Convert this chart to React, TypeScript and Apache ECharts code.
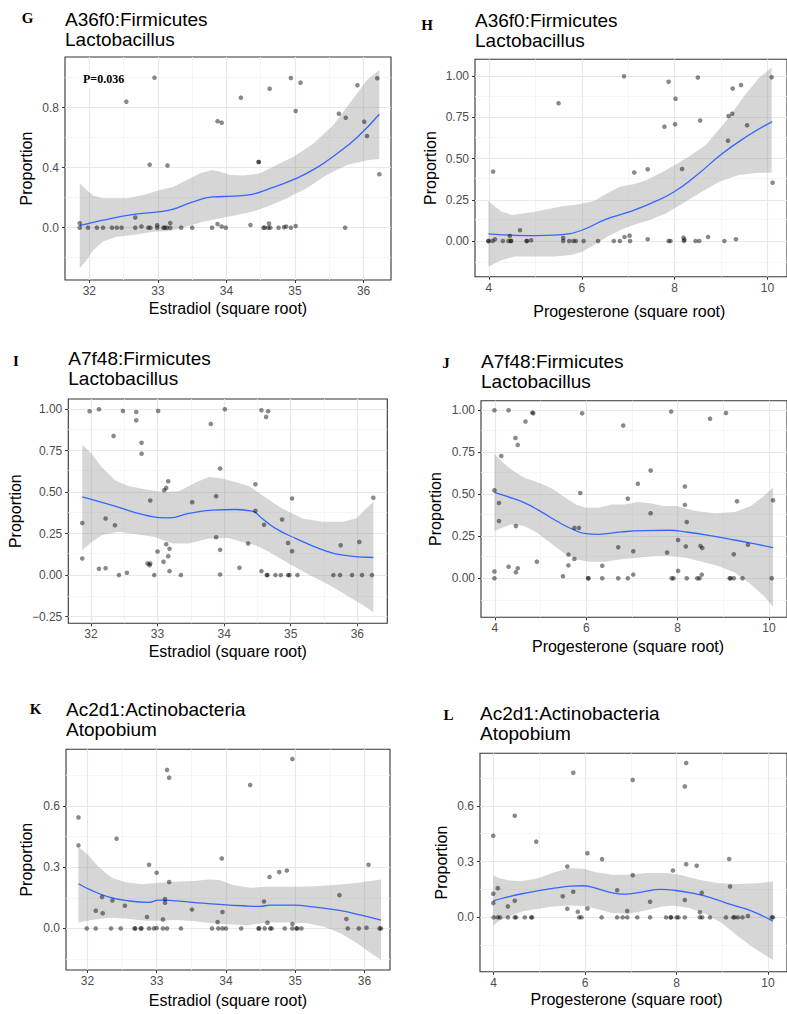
import { useEffect, useRef } from "react";
import * as echarts from "echarts";

type P = [number, number];

// ---------- tick labels ----------
const estradiolTicks = [32, 33, 34, 35, 36];
const progesteroneTicks = [4, 6, 8, 10];
const yTicksG = [0, 0.4, 0.8];
const yTicksHJ = [0, 0.25, 0.5, 0.75, 1];
const yTicksI = [-0.25, 0, 0.25, 0.5, 0.75, 1];
const yTicksKL = [0, 0.3, 0.6];

// ---------- Panel G: A36f0 vs Estradiol ----------
const gPoints: P[] = [
  [31.86, 0.03], [31.86, 0], [31.98, 0], [32.11, 0], [32.2, 0], [32.33, 0], [32.4, 0], [32.47, 0],
  [32.54, 0.84], [32.67, 0.067], [32.67, 0], [32.76, 0.007], [32.86, 0], [32.89, 0], [32.88, 0.42],
  [32.95, 1.0], [32.99, 0.016], [32.99, 0], [33.08, 0], [33.1, 0], [33.13, 0], [33.14, 0.415],
  [33.18, 0.031], [33.18, 0], [33.34, 0], [33.5, 0], [33.79, 0], [33.87, 0.71], [33.93, 0.7],
  [33.87, 0.024], [33.93, 0.007], [33.99, 0], [34.21, 0.867], [34.35, 0.018], [34.47, 0.438],
  [34.47, 0.438], [34.54, 0], [34.56, 0], [34.61, 0], [34.62, 0.027], [34.64, 0], [34.63, 0.927],
  [34.76, 0], [34.84, 0.002], [34.87, 0.007], [34.94, 0], [34.94, 0.998], [35.01, 0.778],
  [35.01, 0.011], [35.08, 0.967], [35.64, 0.76], [35.73, 0], [35.74, 0.733], [35.91, 0.949],
  [36.01, 0.707], [36.05, 0.611], [36.2, 0.996], [36.23, 0.356],
];
const gSmooth: P[] = [
  [31.86, 0.013], [32.2, 0.05], [32.6, 0.085], [33.0, 0.105], [33.2, 0.12], [33.5, 0.17],
  [33.8, 0.205], [34.1, 0.21], [34.35, 0.22], [34.6, 0.255], [35.0, 0.325], [35.3, 0.395],
  [35.6, 0.49], [35.9, 0.6], [36.23, 0.756],
];
const gUpper: P[] = [
  [31.86, 0.296], [31.96, 0.251], [32.06, 0.213], [32.2, 0.196], [32.55, 0.196], [32.79, 0.218],
  [33.03, 0.251], [33.23, 0.273], [33.42, 0.318], [33.62, 0.362], [33.79, 0.384], [33.91, 0.373],
  [34.05, 0.351], [34.25, 0.347], [34.49, 0.362], [34.73, 0.418], [34.98, 0.473], [35.27, 0.562],
  [35.56, 0.684], [35.85, 0.862], [36.05, 0.984], [36.23, 1.051],
];
const gLower: P[] = [
  [31.86, -0.271], [31.96, -0.216], [32.06, -0.149], [32.2, -0.093], [32.4, -0.06], [32.64, -0.049],
  [32.93, -0.027], [33.18, -0.022], [33.42, 0.007], [33.66, 0.04], [33.91, 0.062], [34.15, 0.084],
  [34.39, 0.107], [34.59, 0.14], [34.88, 0.196], [35.17, 0.262], [35.46, 0.351], [35.76, 0.418],
  [36.05, 0.449], [36.23, 0.458],
];

// ---------- Panel H: A36f0 vs Progesterone ----------
const hPoints: P[] = [
  [3.99, 0], [3.99, 0], [4.08, 0], [4.13, 0.01], [4.09, 0.421], [4.3, 0], [4.45, 0.03], [4.42, 0],
  [4.48, 0], [4.47, 0], [4.67, 0.065], [4.81, 0], [4.82, 0], [4.91, 0.004], [5.5, 0.836], [5.6, 0.018],
  [5.6, 0], [5.73, 0], [5.82, 0], [5.87, 0], [6.04, 0], [6.35, 0], [6.69, 0], [6.82, 0], [6.91, 1.0],
  [6.92, 0.024], [7.03, 0.032], [7.04, 0], [7.13, 0.415], [7.42, 0.435], [7.42, 0.01], [7.78, 0.694],
  [7.87, 0], [7.91, 0], [7.87, 0.966], [8.01, 0.709], [8.02, 0.864], [8.16, 0.437], [8.19, 0.02],
  [8.2, 0], [8.21, 0.008], [8.45, 0], [8.53, 0], [8.5, 0.992], [8.55, 0.731], [8.72, 0.024],
  [9.07, 0], [9.15, 0.609], [9.16, 0.759], [9.24, 0.773], [9.25, 0.925], [9.32, 0.01], [9.43, 0.947],
  [9.56, 0.702], [10.09, 0.994], [10.11, 0.354],
];
const hSmooth: P[] = [
  [3.99, 0.043], [4.5, 0.035], [5.0, 0.032], [5.5, 0.037], [6.0, 0.065], [6.5, 0.13], [7.0, 0.175],
  [7.5, 0.23], [8.0, 0.3], [8.5, 0.405], [9.0, 0.525], [9.5, 0.625], [10.1, 0.725],
];
const hUpper: P[] = [
  [3.99, 0.243], [4.13, 0.209], [4.28, 0.178], [4.49, 0.158], [4.99, 0.178], [5.55, 0.209],
  [5.98, 0.225], [6.26, 0.243], [6.55, 0.289], [6.83, 0.33], [7.11, 0.344], [7.4, 0.37], [7.82, 0.431],
  [8.25, 0.502], [8.67, 0.583], [9.1, 0.725], [9.52, 0.887], [9.81, 0.988], [10.09, 1.053],
];
const hLower: P[] = [
  [3.99, -0.156], [4.13, -0.136], [4.28, -0.115], [4.56, -0.095], [4.99, -0.095], [5.41, -0.095],
  [5.77, -0.085], [6.01, -0.065], [6.26, -0.024], [6.55, 0.026], [6.83, 0.067], [7.11, 0.097],
  [7.47, 0.128], [7.82, 0.168], [8.18, 0.229], [8.53, 0.289], [8.96, 0.36], [9.38, 0.4], [9.74, 0.413],
  [10.09, 0.415],
];

// ---------- Panel I: A7f48 vs Estradiol ----------
const iPoints: P[] = [
  [31.87, 0.313], [31.87, 0.1], [31.98, 0.986], [32.12, 0.998], [32.12, 0.038], [32.22, 0.341],
  [32.22, 0.042], [32.34, 0.838], [32.36, 0.3], [32.42, 0], [32.48, 0.988], [32.54, 0.014],
  [32.68, 0.982], [32.68, 0.932], [32.76, 0.796], [32.76, 0.731], [32.85, 0.07], [32.88, 0.06],
  [32.89, 0.07], [32.89, 0.449], [32.95, 0], [33.0, 0.142], [33.01, 0.988], [33.09, 0.08],
  [33.1, 0.511], [33.13, 0.525], [33.16, 0.565], [33.13, 0.186], [33.16, 0.114], [33.18, 0.158],
  [33.18, 0.024], [33.35, 0], [33.52, 0.439], [33.8, 0.91], [33.88, 0.475], [33.88, 0.228],
  [33.94, 0.641], [33.94, 0.152], [33.94, 0.004], [34.01, 0.998], [34.23, 0.044], [34.36, 0.19],
  [34.47, 0.547], [34.47, 0.387], [34.56, 0.992], [34.56, 0.024], [34.6, 0.303], [34.63, 0.952],
  [34.64, 0], [34.65, 0], [34.66, 0.986], [34.77, 0], [34.85, 0], [34.87, 0.335], [34.96, 0.194],
  [34.96, 0], [34.98, 0], [35.02, 0.461], [35.02, 0.144], [35.1, 0], [35.64, 0], [35.74, 0],
  [35.75, 0.18], [35.92, 0], [36.03, 0.2], [36.07, 0], [36.22, 0], [36.24, 0.465],
];
const iSmooth: P[] = [
  [31.87, 0.471], [32.31, 0.421], [32.81, 0.361], [33.17, 0.345], [33.47, 0.371], [33.82, 0.391],
  [34.17, 0.395], [34.42, 0.385], [34.57, 0.341], [34.77, 0.281], [35.08, 0.22], [35.43, 0.16],
  [35.78, 0.12], [36.24, 0.106],
];
const iUpper: P[] = [
  [31.87, 0.786], [32.01, 0.731], [32.16, 0.651], [32.36, 0.571], [32.56, 0.537], [32.81, 0.517],
  [33.07, 0.501], [33.32, 0.505], [33.57, 0.557], [33.77, 0.591], [33.97, 0.581], [34.17, 0.561],
  [34.37, 0.537], [34.57, 0.481], [34.87, 0.401], [35.18, 0.341], [35.48, 0.321], [35.78, 0.321],
  [35.98, 0.341], [36.24, 0.441],
];
const iLower: P[] = [
  [31.87, 0.15], [32.01, 0.2], [32.16, 0.24], [32.41, 0.261], [32.71, 0.245], [32.96, 0.23],
  [33.22, 0.19], [33.47, 0.19], [33.77, 0.22], [34.07, 0.224], [34.27, 0.2], [34.47, 0.18],
  [34.67, 0.14], [34.97, 0.07], [35.28, 0.0], [35.58, -0.06], [35.83, -0.12], [36.08, -0.18],
  [36.24, -0.224],
];

// ---------- Panel J: A7f48 vs Progesterone ----------
const jPoints: P[] = [
  [3.99, 1.0], [3.99, 0.524], [3.99, 0.04], [3.99, 0], [4.09, 0.448], [4.09, 0.341], [4.14, 0.728],
  [4.3, 1.0], [4.3, 0.069], [4.45, 0.835], [4.46, 0.311], [4.46, 0.036], [4.5, 0.794], [4.5, 0.06],
  [4.67, 0.933], [4.82, 0.986], [4.84, 0.982], [4.92, 0.099], [5.49, 0.012], [5.61, 0.141],
  [5.61, 0.077], [5.74, 0.115], [5.74, 0.3], [5.84, 0.3], [5.87, 0.508], [5.91, 0.982], [6.04, 0],
  [6.05, 0], [6.35, 0.075], [6.35, 0], [6.7, 0.185], [6.7, 0], [6.81, 0.909], [6.91, 0],
  [6.91, 0.474], [7.03, 0.161], [7.03, 0.022], [7.13, 0.563], [7.41, 0.641], [7.41, 0.387],
  [7.77, 0.153], [7.86, 0.992], [7.87, 0], [7.91, 0], [8.01, 0.228], [8.01, 0.044], [8.16, 0.546],
  [8.16, 0.437], [8.18, 0.19], [8.2, 0.335], [8.2, 0], [8.43, 0], [8.48, 0], [8.5, 0.192],
  [8.54, 0.18], [8.53, 0.022], [8.71, 0.95], [9.06, 0.984], [9.14, 0], [9.16, 0], [9.23, 0.143],
  [9.23, 0], [9.3, 0.458], [9.42, 0], [9.54, 0.2], [10.06, 0], [10.09, 0.464],
];
const jSmooth: P[] = [
  [3.99, 0.512], [4.28, 0.486], [4.64, 0.45], [4.99, 0.4], [5.35, 0.341], [5.7, 0.292], [5.99, 0.266],
  [6.27, 0.262], [6.77, 0.276], [7.26, 0.284], [7.83, 0.286], [8.18, 0.276], [8.68, 0.256],
  [9.25, 0.228], [9.67, 0.206], [10.09, 0.183],
];
const jUpper: P[] = [
  [3.99, 0.738], [4.14, 0.698], [4.35, 0.649], [4.64, 0.599], [4.92, 0.573], [5.21, 0.54], [5.49, 0.49],
  [5.77, 0.44], [5.99, 0.42], [6.27, 0.42], [6.55, 0.44], [6.84, 0.44], [7.12, 0.454], [7.4, 0.446],
  [7.69, 0.43], [7.97, 0.43], [8.4, 0.4], [8.82, 0.387], [9.25, 0.395], [9.6, 0.43], [9.89, 0.49],
  [10.09, 0.54],
];
const jLower: P[] = [
  [3.99, 0.282], [4.14, 0.3], [4.35, 0.321], [4.64, 0.311], [4.92, 0.272], [5.21, 0.212], [5.49, 0.153],
  [5.77, 0.113], [6.06, 0.099], [6.41, 0.099], [6.77, 0.113], [7.12, 0.123], [7.48, 0.133],
  [7.83, 0.133], [8.18, 0.123], [8.54, 0.099], [8.89, 0.073], [9.25, 0.034], [9.6, -0.036],
  [9.89, -0.105], [10.09, -0.171],
];

// ---------- Panel K: Ac2d1 vs Estradiol ----------
const kPoints: P[] = [
  [31.87, 0.544], [31.87, 0.407], [31.99, 0], [32.12, 0.087], [32.12, 0], [32.21, 0.154], [32.22, 0.074],
  [32.34, 0], [32.36, 0.137], [32.42, 0.44], [32.48, 0], [32.54, 0.111], [32.68, 0], [32.69, 0],
  [32.77, 0], [32.78, 0], [32.86, 0.056], [32.89, 0.312], [32.89, 0], [32.96, 0], [33.0, 0.002],
  [33.0, 0.273], [33.09, 0.044], [33.09, 0], [33.12, 0.144], [33.12, 0.126], [33.15, 0.777],
  [33.15, 0], [33.18, 0.739], [33.18, 0.227], [33.35, 0], [33.51, 0.092], [33.8, 0], [33.88, 0.031],
  [33.89, 0], [33.95, 0], [34.0, 0], [33.94, 0.343], [33.95, 0.08], [34.22, 0], [34.35, 0.703],
  [34.47, 0], [34.48, 0], [34.55, 0.132], [34.56, 0], [34.6, 0.028], [34.63, 0.252], [34.64, 0],
  [34.66, 0], [34.77, 0.276], [34.85, 0], [34.88, 0.284], [34.96, 0.83], [34.96, 0.021], [34.96, 0],
  [35.02, 0], [35.03, 0], [35.09, 0], [35.64, 0.163], [35.74, 0.046], [35.76, 0], [35.92, 0],
  [36.03, 0.003], [36.06, 0.312], [36.22, 0], [36.24, 0],
];
const kSmooth: P[] = [
  [31.87, 0.219], [32.06, 0.186], [32.3, 0.155], [32.55, 0.137], [32.89, 0.128], [33.03, 0.139],
  [33.18, 0.137], [33.52, 0.128], [33.91, 0.118], [34.25, 0.111], [34.49, 0.108], [34.64, 0.114],
  [34.98, 0.114], [35.27, 0.105], [35.66, 0.087], [35.95, 0.065], [36.24, 0.041],
];
const kUpper: P[] = [
  [31.87, 0.4], [32.01, 0.36], [32.16, 0.302], [32.35, 0.248], [32.55, 0.226], [32.79, 0.216],
  [33.03, 0.224], [33.27, 0.229], [33.52, 0.232], [33.76, 0.24], [33.91, 0.237], [34.1, 0.213],
  [34.35, 0.199], [34.59, 0.204], [34.98, 0.204], [35.27, 0.206], [35.56, 0.213], [35.85, 0.221],
  [36.24, 0.24],
];
const kLower: P[] = [
  [31.87, 0.029], [32.06, 0.041], [32.3, 0.052], [32.55, 0.049], [32.84, 0.038], [33.03, 0.038],
  [33.27, 0.041], [33.52, 0.036], [33.76, 0.026], [34.0, 0.02], [34.3, 0.016], [34.59, 0.029],
  [34.88, 0.029], [35.17, 0.025], [35.42, 0.008], [35.66, -0.025], [35.9, -0.074], [36.1, -0.123],
  [36.24, -0.155],
];

// ---------- Panel L: Ac2d1 vs Progesterone ----------
const lPoints: P[] = [
  [3.99, 0.439], [3.99, 0.127], [3.99, 0.077], [4.0, 0], [4.09, 0.157], [4.09, 0], [4.14, 0],
  [4.31, 0.059], [4.31, 0], [4.46, 0.089], [4.46, 0.546], [4.46, 0], [4.49, 0], [4.68, 0], [4.82, 0],
  [4.84, 0], [4.93, 0.407], [5.51, 0.113], [5.61, 0.273], [5.61, 0.046], [5.74, 0.777], [5.74, 0.138],
  [5.84, 0.03], [5.87, 0], [5.92, 0], [6.05, 0.345], [6.05, 0.048], [6.36, 0], [6.37, 0.313],
  [6.7, 0.146], [6.7, 0], [6.82, 0], [6.92, 0.034], [6.92, 0], [7.04, 0.739], [7.04, 0.227], [7.14, 0],
  [7.42, 0.084], [7.42, 0], [7.77, 0], [7.87, 0], [7.88, 0], [7.92, 0.252], [8.0, 0], [8.04, 0],
  [8.18, 0], [8.18, 0.093], [8.18, 0.704], [8.21, 0.83], [8.21, 0.286], [8.44, 0.277], [8.51, 0.027],
  [8.51, 0], [8.56, 0], [8.55, 0.132], [8.73, 0], [9.08, 0], [9.15, 0.314], [9.17, 0.166], [9.24, 0],
  [9.27, 0], [9.34, 0], [9.44, 0], [9.56, 0.007], [10.08, 0], [10.11, 0],
];
const lSmooth: P[] = [
  [3.99, 0.089], [4.27, 0.107], [4.62, 0.127], [4.97, 0.143], [5.32, 0.157], [5.68, 0.168],
  [5.96, 0.17], [6.17, 0.161], [6.52, 0.136], [6.87, 0.125], [7.23, 0.136], [7.65, 0.15], [7.93, 0.146],
  [8.35, 0.13], [8.77, 0.104], [9.2, 0.068], [9.62, 0.036], [10.11, -0.021],
];
const lUpper: P[] = [
  [3.99, 0.227], [4.13, 0.211], [4.34, 0.198], [4.62, 0.196], [4.97, 0.211], [5.32, 0.243],
  [5.68, 0.264], [5.96, 0.261], [6.24, 0.243], [6.59, 0.229], [6.94, 0.229], [7.37, 0.238],
  [7.79, 0.239], [8.07, 0.229], [8.49, 0.202], [8.92, 0.184], [9.34, 0.179], [9.76, 0.184], [10.11, 0.193],
];
const lLower: P[] = [
  [3.99, -0.045], [4.13, -0.016], [4.34, 0.005], [4.62, 0.032], [4.97, 0.046], [5.32, 0.059],
  [5.68, 0.064], [5.96, 0.061], [6.24, 0.046], [6.59, 0.023], [6.94, 0.02], [7.3, 0.036], [7.65, 0.057],
  [7.93, 0.064], [8.28, 0.05], [8.63, 0.02], [8.99, -0.03], [9.34, -0.102], [9.69, -0.164], [10.11, -0.23],
];

// ---------- panel definitions (content) ----------
const panels = [
  { letter: "G", title1: "A36f0:Firmicutes", title2: "Lactobacillus", xName: "Estradiol (square root)",
    points: gPoints, smooth: gSmooth, upper: gUpper, lower: gLower, xTicks: estradiolTicks, yTicks: yTicksG,
    yDec: 1, xMin: 31.645, xMax: 36.4, yMin: -0.349, yMax: 1.138 },
  { letter: "H", title1: "A36f0:Firmicutes", title2: "Lactobacillus", xName: "Progesterone (square root)",
    points: hPoints, smooth: hSmooth, upper: hUpper, lower: hLower, xTicks: progesteroneTicks, yTicks: yTicksHJ,
    yDec: 2, xMin: 3.7, xMax: 10.42, yMin: -0.217, yMax: 1.103 },
  { letter: "I", title1: "A7f48:Firmicutes", title2: "Lactobacillus", xName: "Estradiol (square root)",
    points: iPoints, smooth: iSmooth, upper: iUpper, lower: iLower, xTicks: estradiolTicks, yTicks: yTicksI,
    yDec: 2, xMin: 31.66, xMax: 36.45, yMin: -0.29, yMax: 1.06 },
  { letter: "J", title1: "A7f48:Firmicutes", title2: "Lactobacillus", xName: "Progesterone (square root)",
    points: jPoints, smooth: jSmooth, upper: jUpper, lower: jLower, xTicks: progesteroneTicks, yTicks: yTicksHJ,
    yDec: 2, xMin: 3.696, xMax: 10.395, yMin: -0.232, yMax: 1.057 },
  { letter: "K", title1: "Ac2d1:Actinobacteria", title2: "Atopobium", xName: "Estradiol (square root)",
    points: kPoints, smooth: kSmooth, upper: kUpper, lower: kLower, xTicks: estradiolTicks, yTicks: yTicksKL,
    yDec: 1, xMin: 31.69, xMax: 36.37, yMin: -0.204, yMax: 0.878 },
  { letter: "L", title1: "Ac2d1:Actinobacteria", title2: "Atopobium", xName: "Progesterone (square root)",
    points: lPoints, smooth: lSmooth, upper: lUpper, lower: lLower, xTicks: progesteroneTicks, yTicks: yTicksKL,
    yDec: 1, xMin: 3.7, xMax: 10.415, yMin: -0.292, yMax: 0.882 },
];

// ---------- layout (pixels) ----------
const layouts = [
  { left: 65, top: 57, width: 326, height: 223, lx: 27.5, ly: 18, tx: 65, ty: 19.7, yGap: 31, xGap: 20, xPad: 0 },
  { left: 475, top: 59.3, width: 317.5, height: 217.4, lx: 427, ly: 25.3, tx: 475, ty: 20.5, yGap: 36.5, xGap: 27, xPad: 3.5 },
  { left: 68.3, top: 399, width: 319, height: 224.3, lx: 15.8, ly: 361, tx: 68.3, ty: 358.8, yGap: 44.5, xGap: 20, xPad: 0 },
  { left: 481, top: 400.7, width: 314.9, height: 216.6, lx: 446, ly: 362.5, tx: 481, ty: 361.7, yGap: 37.5, xGap: 21, xPad: 12 },
  { left: 66, top: 749.3, width: 324, height: 220.7, lx: 35.5, ly: 709, tx: 66, ty: 709.7, yGap: 31.5, xGap: 22, xPad: 0 },
  { left: 480, top: 753.3, width: 317.9, height: 218.4, lx: 448.5, ly: 714.5, tx: 480, ty: 713.7, yGap: 30.5, xGap: 19.5, xPad: 14 },
];

const SANS = '"Liberation Sans", Arial, Helvetica, sans-serif';
const SERIF = '"Liberation Serif", "Times New Roman", serif';

const fmt = (v: number, d: number) => (v < 0 ? "\u2212" : "") + Math.abs(v).toFixed(d);

// minor grid positions: half-way between major ticks, within the axis range
const minorOf = (ticks: number[], min: number, max: number) => {
  const step = ticks[1] - ticks[0];
  const out: number[] = [];
  for (let v = ticks[0] - step * 1.5; v <= max + 1e-9; v += step) {
    const r = Math.round(v * 1e6) / 1e6;
    if (r >= min && r <= max) out.push(r);
  }
  return out;
};

export default function App() {
  const ref = useRef<HTMLDivElement>(null);

  useEffect(() => {
    document.body.style.margin = "0";
    if (!ref.current) return;
    const chart = echarts.init(ref.current, undefined, { renderer: "svg" });

    const grids: any[] = [];
    const xAxes: any[] = [];
    const yAxes: any[] = [];
    const series: any[] = [];
    const graphics: any[] = [];

    panels.forEach((p, i) => {
      const L = layouts[i];
      grids.push({
        left: L.left, top: L.top, width: L.width, height: L.height,
        show: true, backgroundColor: "#ffffff", borderColor: "#333333", borderWidth: 1.1,
      });
      xAxes.push({
        type: "value", gridIndex: i, min: p.xMin, max: p.xMax, position: "bottom",
        splitLine: { show: false },
        axisLine: { show: false, onZero: false },
        axisTick: { show: true, length: 3, lineStyle: { color: "#333333", width: 1 }, customValues: p.xTicks },
        axisLabel: { customValues: p.xTicks, color: "#4D4D4D", fontSize: 12, margin: 5, fontFamily: SANS,
          formatter: (v: number) => String(v) },
        name: p.xName, nameLocation: "middle", nameGap: L.xGap,
        nameTextStyle: { color: "#000000", fontSize: 16, fontFamily: SANS, padding: [0, L.xPad, 0, 0] },
      });
      yAxes.push({
        type: "value", gridIndex: i, min: p.yMin, max: p.yMax, position: "left",
        splitLine: { show: false },
        axisLine: { show: false, onZero: false },
        axisTick: { show: true, length: 3, lineStyle: { color: "#333333", width: 1 }, customValues: p.yTicks },
        axisLabel: { customValues: p.yTicks, color: "#4D4D4D", fontSize: 12, margin: 6, fontFamily: SANS,
          formatter: (v: number) => fmt(v, p.yDec) },
        name: "Proportion", nameLocation: "middle", nameRotate: 90, nameGap: L.yGap,
        nameTextStyle: { color: "#000000", fontSize: 16, fontFamily: SANS },
      });

      const xMinor = minorOf(p.xTicks, p.xMin, p.xMax);
      const yMinor = minorOf(p.yTicks, p.yMin, p.yMax);
      const minorStyle = { color: "#F2F2F2", width: 0.8, type: "solid" };
      const majorStyle = { color: "#E8E8E8", width: 1.2, type: "solid" };
      const gridLines = [
        ...xMinor.map((v) => ({ xAxis: v, lineStyle: minorStyle })),
        ...yMinor.map((v) => ({ yAxis: v, lineStyle: minorStyle })),
        ...p.xTicks.map((v) => ({ xAxis: v, lineStyle: majorStyle })),
        ...p.yTicks.map((v) => ({ yAxis: v, lineStyle: majorStyle })),
      ];

      // ribbon (confidence band)
      series.push({
        type: "custom", xAxisIndex: i, yAxisIndex: i, z: 2, silent: true,
        data: [p.upper[0]],
        renderItem: (_params: any, api: any) => {
          const pts = p.upper.map((q) => api.coord(q))
            .concat(p.lower.slice().reverse().map((q) => api.coord(q)));
          return { type: "polygon", shape: { points: pts }, style: { fill: "rgba(153,153,153,0.4)", stroke: "none" } };
        },
      });
      // smooth fit
      series.push({
        type: "line", xAxisIndex: i, yAxisIndex: i, z: 3, silent: true,
        data: p.smooth, smooth: true, showSymbol: false, symbol: "none",
        lineStyle: { color: "#3366FF", width: 1.3 },
      });
      // points (+ panel grid lines as markLine underneath)
      series.push({
        type: "scatter", xAxisIndex: i, yAxisIndex: i, z: 4, silent: true,
        data: p.points, symbolSize: 4.6,
        itemStyle: { color: "rgba(0,0,0,0.58)" },
        markLine: {
          silent: true, z: 1, symbol: ["none", "none"], label: { show: false },
          emphasis: { disabled: true }, animation: false,
          data: gridLines,
        },
      });

      graphics.push(
        { type: "text", x: L.lx, y: L.ly, silent: true,
          style: { text: p.letter, fill: "#000", fontFamily: SERIF, fontWeight: "bold", fontSize: 15,
            align: "center", verticalAlign: "middle" } },
        { type: "text", x: L.tx, y: L.ty, silent: true,
          style: { text: p.title1, fill: "#000", fontFamily: SANS, fontSize: 19, align: "left", verticalAlign: "middle" } },
        { type: "text", x: L.tx, y: L.ty + 20, silent: true,
          style: { text: p.title2, fill: "#000", fontFamily: SANS, fontSize: 19, align: "left", verticalAlign: "middle" } },
      );
    });

    // P-value annotation in panel G
    graphics.push({
      type: "text", x: 79, y: 79, z: 100, silent: true,
      style: { text: "P=0.036", fill: "#000", fontFamily: SERIF, fontWeight: "bold", fontSize: 12,
        align: "left", verticalAlign: "middle", backgroundColor: "#ffffff", padding: [3, 4, 3, 4] },
    });

    chart.setOption({
      animation: false,
      backgroundColor: "#ffffff",
      grid: grids,
      xAxis: xAxes,
      yAxis: yAxes,
      series,
      graphic: graphics,
    });

    return () => chart.dispose();
  }, []);

  return <div ref={ref} style={{ width: 787, height: 1014 }} />;
}
